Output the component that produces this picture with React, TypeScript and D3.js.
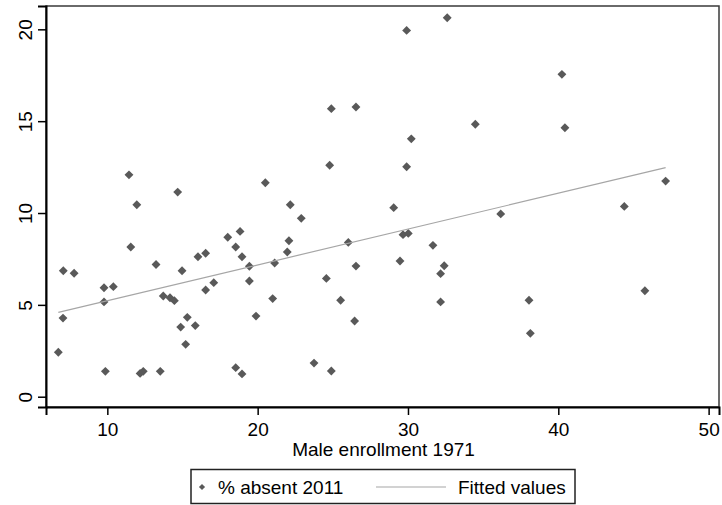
import React, { useEffect, useRef } from "react";
import * as d3 from "d3";

// Male enrollment 1971 (x) vs % absent 2011 (y)
const enrollment = [
  11.44, 11.96, 14.68, 32.61, 29.91, 24.9, 26.54, 34.48, 30.22, 24.79, 29.91,
  20.51, 22.17, 29.05, 22.9, 40.24, 40.44, 47.14, 44.39, 36.17, 7.07, 7.79,
  11.56, 13.24, 9.78, 10.4, 9.78, 7.05, 6.74, 9.87, 12.18, 12.39, 13.52, 14.97,
  13.72, 14.17, 14.46, 15.32, 14.88, 15.85, 15.21, 16.03, 16.54, 16.54, 17.08,
  18.01, 18.83, 18.54, 18.96, 19.45, 19.45, 18.54, 18.96, 22.08, 21.97, 21.13,
  19.89, 21.0, 23.75, 24.9, 24.57, 26.03, 26.54, 25.52, 26.45, 29.67, 30.02,
  29.47, 31.66, 32.41, 32.17, 32.17, 38.05, 38.14, 45.76,
];
const absent = [
  12.08, 10.45, 11.14, 20.63, 19.94, 15.68, 15.77, 14.83, 14.04, 12.6, 12.52,
  11.65, 10.45, 10.29, 9.71, 17.55, 14.64, 11.74, 10.36, 9.95, 6.86, 6.72, 8.15,
  7.2, 5.93, 5.99, 5.16, 4.28, 2.42, 1.38, 1.27, 1.38, 1.38, 6.86, 5.48, 5.39,
  5.23, 4.32, 3.79, 3.87, 2.85, 7.62, 7.81, 5.81, 6.21, 8.68, 9.0, 8.15, 7.62,
  7.1, 6.3, 1.58, 1.24, 8.49, 7.88, 7.28, 4.39, 5.34, 1.83, 1.4, 6.44, 8.4, 7.11,
  5.25, 4.12, 8.82, 8.89, 7.39, 8.24, 7.13, 6.7, 5.16, 5.25, 3.45, 5.77,
];
// fitted line end points
const fitX = [6.74, 47.14];
const fitY = [4.59, 12.47];

const xTicks = [10, 20, 30, 40, 50];
const yTicks = [0, 5, 10, 15, 20];

const FONT = "'Liberation Sans', Arial, sans-serif";
const FS = 19;

const App = () => {
  const ref = useRef<SVGSVGElement>(null);

  useEffect(() => {
    const width = 722;
    const height = 505;
    const left = 46,
      right = 719,
      top = 6,
      bottom = 407;

    const svg = d3.select(ref.current);
    svg.selectAll("*").remove();
    svg.attr("width", width).attr("height", height);

    const x = d3.scaleLinear().domain([5.92, 50.69]).range([left, right]);
    const y = d3.scaleLinear().domain([-0.56, 21.27]).range([bottom, top]);

    svg
      .append("rect")
      .attr("width", width)
      .attr("height", height)
      .attr("fill", "#fff");

    // plot frame
    svg
      .append("rect")
      .attr("x", left)
      .attr("y", top)
      .attr("width", right - left)
      .attr("height", bottom - top)
      .attr("fill", "#fff")
      .attr("stroke", "#3a3a3a")
      .attr("stroke-width", 1.5);

    // points
    const pts = enrollment.map((v, i) => [v, absent[i]]);
    const sym = d3.symbol().type(d3.symbolDiamond2).size(50);
    svg
      .append("g")
      .selectAll("path")
      .data(pts)
      .join("path")
      .attr("transform", (d) => `translate(${x(d[0])},${y(d[1])})`)
      .attr("d", sym)
      .attr("fill", "#595959");

    // fitted line
    const line = d3
      .line<number>()
      .x((d) => x(d))
      .y((d, i) => y(fitY[i]));
    svg
      .append("path")
      .attr("d", line(fitX))
      .attr("fill", "none")
      .attr("stroke", "#a6a6a6")
      .attr("stroke-width", 1.2);

    // x axis
    const xAxis = svg
      .append("g")
      .attr("transform", `translate(0,${bottom})`)
      .call(d3.axisBottom(x).tickValues(xTicks).tickSize(8).tickPadding(8));
    xAxis.select(".domain").attr("stroke", "#000").attr("stroke-width", 2);
    xAxis.selectAll(".tick line").attr("stroke", "#000").attr("stroke-width", 1.5);
    xAxis
      .selectAll(".tick text")
      .attr("font-family", FONT)
      .attr("font-size", FS)
      .attr("fill", "#000");

    // y axis
    const yAxis = svg
      .append("g")
      .attr("transform", `translate(${left},0)`)
      .call(d3.axisLeft(y).tickValues(yTicks).tickSize(8).tickPadding(0));
    yAxis.select(".domain").attr("stroke", "#000").attr("stroke-width", 2);
    yAxis.selectAll(".tick line").attr("stroke", "#000").attr("stroke-width", 1.5);
    yAxis
      .selectAll(".tick text")
      .attr("font-family", FONT)
      .attr("font-size", FS)
      .attr("fill", "#000")
      .attr("x", null)
      .attr("dy", null)
      .attr("text-anchor", "middle")
      .attr("transform", "translate(-14.5,0) rotate(-90)");

    // axis title
    svg
      .append("text")
      .attr("x", (292 + 475) / 2)
      .attr("y", 456)
      .attr("text-anchor", "middle")
      .attr("font-family", FONT)
      .attr("font-size", FS)
      .text("Male enrollment 1971");

    // legend
    const lg = svg.append("g");
    lg.append("rect")
      .attr("x", 191)
      .attr("y", 469.5)
      .attr("width", 384)
      .attr("height", 34)
      .attr("fill", "#fff")
      .attr("stroke", "#222")
      .attr("stroke-width", 1.5);
    lg.append("path")
      .attr("transform", "translate(202,487)")
      .attr("d", d3.symbol().type(d3.symbolDiamond2).size(24))
      .attr("fill", "#595959");
    lg.append("text")
      .attr("x", 218)
      .attr("y", 494)
      .attr("font-family", FONT)
      .attr("font-size", FS)
      .text("% absent 2011");
    lg.append("line")
      .attr("x1", 376)
      .attr("x2", 446)
      .attr("y1", 487)
      .attr("y2", 487)
      .attr("stroke", "#a6a6a6")
      .attr("stroke-width", 1.2);
    lg.append("text")
      .attr("x", 458)
      .attr("y", 494)
      .attr("font-family", FONT)
      .attr("font-size", FS)
      .text("Fitted values");
  }, []);

  return (
    <svg
      ref={ref}
      style={{ position: "absolute", left: 0, top: 0, display: "block" }}
    />
  );
};

export default App;
